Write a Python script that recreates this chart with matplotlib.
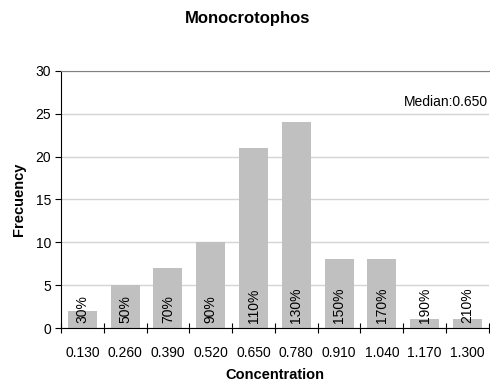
import matplotlib.pyplot as plt
import numpy as np

plt.rcParams['font.family'] = ['Liberation Sans', 'DejaVu Sans']

# Histogram data
concentrations = ['0.130', '0.260', '0.390', '0.520', '0.650',
                  '0.780', '0.910', '1.040', '1.170', '1.300']
frequency = [2, 5, 7, 10, 21, 24, 8, 8, 1, 1]
percent_labels = ['30%', '50%', '70%', '90%', '110%',
                  '130%', '150%', '170%', '190%', '210%']
median_text = 'Median:0.650'

fig = plt.figure(figsize=(4.9, 3.85), dpi=100)
ax = fig.add_axes([0.1245, 0.148, 0.873, 0.668])

x = np.arange(len(frequency))
ax.bar(x, frequency, width=0.68, color='#c0c0c0', zorder=2)

for xi, lab in zip(x, percent_labels):
    ax.text(xi, 0.6, lab, rotation=90, ha='center', va='bottom',
            fontsize=10, color='black', zorder=3)

ax.set_xlim(-0.5, len(frequency) - 0.5)
ax.set_ylim(0, 30)
ax.set_yticks(range(0, 31, 5))
ax.yaxis.grid(True, color='#d4d4d4', linewidth=1, zorder=0)
ax.set_axisbelow(True)

# category labels centred, tick marks between bars
ax.set_xticks(x)
ax.set_xticklabels(concentrations, fontsize=10)
ax.tick_params(axis='x', length=0, pad=13)
ax.set_xticks(np.arange(-0.5, len(frequency), 1.0), minor=True)
ax.tick_params(axis='x', which='minor', length=7, direction='inout',
               width=0.8, color='black')
ax.tick_params(axis='y', labelsize=10, length=4, width=0.8, pad=3)

ax.spines['right'].set_visible(False)
ax.spines['top'].set_color('#808080')
ax.spines['left'].set_linewidth(0.8)
ax.spines['bottom'].set_linewidth(0.8)

ax.text(0.998, 25.5, median_text, ha='right', va='bottom', fontsize=10,
        transform=ax.get_yaxis_transform())

ax.set_xlabel('Concentration', fontsize=10.5, fontweight='bold', labelpad=6)
ax.set_ylabel('Frecuency', fontsize=10.5, fontweight='bold', labelpad=7)
fig.text(0.506, 0.953, 'Monocrotophos', ha='center', va='center',
         fontsize=12, fontweight='bold')

fig.savefig('out.png', dpi=100)
